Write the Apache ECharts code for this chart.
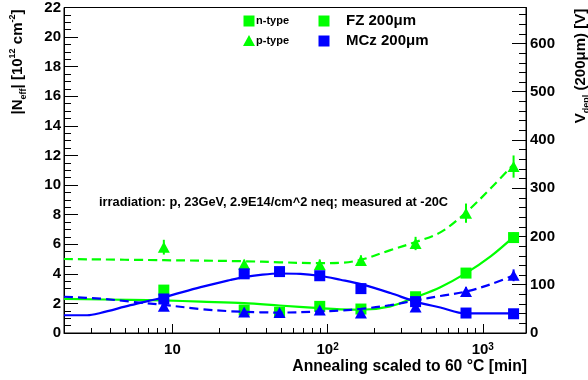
<!DOCTYPE html>
<html><head><meta charset="utf-8">
<script src="https://cdn.jsdelivr.net/npm/echarts@6/dist/echarts.min.js"></script>
<style>html,body{margin:0;padding:0;background:#fff}#c{width:588px;height:380px}</style>
</head><body><div id="c"></div>
<script>
// measured points (annealing time in min)
const times = [8.8, 29, 49, 89, 164, 369, 780, 1580];
const fzN = [2.9, 1.55, 1.4, 1.8, 1.62, 2.45, 4.05, 6.45];
const fzNErr = [0.3, 0.15, 0.15, 0.15, 0.15, 0.2, 0.3, 0.35];
const mczN = [2.3, 4.0, 4.15, 3.87, 3.0, 2.12, 1.35, 1.3];
const mczNErr = [0.25, 0.3, 0.25, 0.3, 0.25, 0.2, 0.1, 0.1];
const fzP = [5.8, 4.65, null, 4.62, 4.9, 6.05, 8.1, 11.25];
const fzPErr = [0.5, 0.3, 0, 0.35, 0.35, 0.45, 0.65, 0.75];
const mczP = [1.8, 1.42, 1.38, 1.55, 1.35, 1.75, 2.8, 3.9];
const mczPErr = [0.2, 0.1, 0.1, 0.15, 0.1, 0.2, 0.3, 0.4];

// fit curves
const fitFzNT = [2, 5.36, 8.8, 15.2, 29, 48.9, 88.5, 121, 164, 254, 369, 533, 780, 1130, 1580];
const fitFzNV = [2.3, 2.24, 2.2, 2.12, 2.02, 1.86, 1.68, 1.6, 1.57, 1.8, 2.42, 3.1, 4.05, 5.2, 6.5];
const fitFzPT = [2, 8.8, 29, 48.9, 88.5, 121, 164, 254, 369, 533, 780, 1130, 1580];
const fitFzPV = [5.0, 4.92, 4.85, 4.78, 4.72, 4.74, 4.95, 5.6, 6.15, 6.8, 8.15, 9.8, 11.4];
const fitMczNT = [2, 2.82, 3.43, 5.36, 8.8, 15.2, 23.6, 29, 36.9, 48.9, 66.8, 88.5, 121, 164, 254, 369, 533, 780, 1580];
const fitMczNV = [1.2, 1.2, 1.35, 1.88, 2.42, 3.1, 3.58, 3.78, 3.93, 4.02, 4.0, 3.87, 3.6, 3.3, 2.7, 2.12, 1.72, 1.32, 1.32];
const fitMczPT = [2, 3.43, 5.36, 8.8, 15.2, 23.6, 36.9, 48.9, 88.5, 121, 164, 254, 369, 533, 780, 1130, 1580];
const fitMczPV = [2.45, 2.32, 2.12, 1.9, 1.62, 1.47, 1.4, 1.38, 1.45, 1.52, 1.63, 1.88, 2.2, 2.5, 2.8, 3.3, 3.9];

const xMajor = [10, 100, 1000];
const xMinor = [3,4,5,6,7,8,9,20,30,40,50,60,70,80,90,200,300,400,500,600,700,800,900];

const GREEN = '#00ff00', BLUE = '#0000ff';
const FONT = 'Liberation Sans, Arial, Helvetica, sans-serif';

const zip = (a, b) => a.map((v, i) => [v, b[i]]).filter(p => p[1] !== null && p[1] !== undefined);
const zipErr = (a, b, e) => a.map((v, i) => [v, b[i], e[i]]).filter(p => p[1] !== null && p[1] !== undefined);

function lineSeries(t, v, color, dashed, z) {
  return { type: 'line', data: zip(t, v), showSymbol: false, smooth: 0.35, z: z,
    lineStyle: { color: color, width: 2.2, type: dashed ? [9, 5] : 'solid' }, silent: true, animation: false };
}
function errSeries(t, v, e, color, z) {
  return { type: 'custom', data: zipErr(t, v, e), z: z, silent: true, animation: false,
    renderItem: function (params, api) {
      const x = api.value(0), y = api.value(1), er = api.value(2);
      const p1 = api.coord([x, y - er]), p2 = api.coord([x, y + er]);
      return { type: 'line', shape: { x1: p1[0], y1: p1[1], x2: p2[0], y2: p2[1] },
        style: { stroke: color, lineWidth: 2 } };
    } };
}
function markSeries(t, v, color, symbol, size, z) {
  return { type: 'scatter', data: zip(t, v), symbol: symbol, symbolSize: size, z: z,
    itemStyle: { color: color, opacity: 1 }, silent: true, animation: false };
}

const chart = echarts.init(document.getElementById('c'), null, { renderer: 'canvas' });
chart.setOption({
  animation: false,
  backgroundColor: '#fff',
  grid: { left: 64, right: 62, top: 7, bottom: 47, show: true, borderColor: '#000', borderWidth: 1, containLabel: false },
  xAxis: [
    { type: 'log', logBase: 10, min: 2, max: 1900,
      axisLine: { lineStyle: { color: '#000', width: 1 } },
      axisTick: { inside: true, length: 9, customValues: xMajor, lineStyle: { color: '#000' } },
      axisLabel: { customValues: xMajor, margin: 9,
        formatter: function (v) { const e = Math.round(Math.log10(v)); return e === 1 ? '{b|10}' : '{b|10}{s|' + e + '}'; },
        rich: { b: { fontFamily: FONT, fontWeight: 'bold', fontSize: 15, color: '#000' },
                s: { fontFamily: FONT, fontWeight: 'bold', fontSize: 10, color: '#000', verticalAlign: 'top' } } },
      splitLine: { show: false } },
    { type: 'log', logBase: 10, min: 2, max: 1900, position: 'bottom', offset: 0,
      axisLine: { show: false },
      axisTick: { inside: true, length: 5, customValues: xMinor, lineStyle: { color: '#000' } },
      axisLabel: { show: false }, splitLine: { show: false } }
  ],
  yAxis: [
    { type: 'value', min: 0, max: 22, interval: 2,
      axisLine: { show: true, lineStyle: { color: '#000' } },
      axisTick: { show: true, inside: true, length: 14, lineStyle: { color: '#000' } },
      minorTick: { show: true, splitNumber: 4, length: 7, lineStyle: { color: '#000' } },
      axisLabel: { margin: 3, fontFamily: FONT, fontWeight: 'bold', fontSize: 15, color: '#000' },
      splitLine: { show: false } },
    { type: 'value', min: 0, max: 674.5, interval: 100, position: 'right',
      axisLine: { show: true, lineStyle: { color: '#000' } },
      axisTick: { show: true, inside: true, length: 14, lineStyle: { color: '#000' } },
      minorTick: { show: true, splitNumber: 5, length: 7, lineStyle: { color: '#000' } },
      axisLabel: { margin: 4, fontFamily: FONT, fontWeight: 'bold', fontSize: 15, color: '#000',
        formatter: function (v) { return v % 100 === 0 ? String(v) : ''; } },
      splitLine: { show: false } }
  ],
  series: [
    lineSeries(fitFzNT, fitFzNV, GREEN, false, 2),
    lineSeries(fitFzPT, fitFzPV, GREEN, true, 2),
    errSeries(times, fzN, fzNErr, GREEN, 3),
    errSeries(times, fzP, fzPErr, GREEN, 3),
    markSeries(times, fzN, GREEN, 'rect', 11, 4),
    markSeries(times, fzP, GREEN, 'triangle', [12, 11], 4),
    lineSeries(fitMczNT, fitMczNV, BLUE, false, 5),
    lineSeries(fitMczPT, fitMczPV, BLUE, true, 5),
    errSeries(times, mczN, mczNErr, BLUE, 6),
    errSeries(times, mczP, mczPErr, BLUE, 6),
    markSeries(times, mczN, BLUE, 'rect', 11, 7),
    markSeries(times, mczP, BLUE, 'triangle', [12, 11], 7)
  ],
  graphic: [
    { type: 'rect', shape: { x: 243.5, y: 15.5, width: 11, height: 11 }, style: { fill: GREEN } },
    { type: 'text', x: 256, y: 21, style: { text: 'n-type', font: 'bold 11px ' + FONT, fill: '#000', verticalAlign: 'middle' } },
    { type: 'polygon', shape: { points: [[249, 35], [243, 46], [255, 46]] }, style: { fill: GREEN } },
    { type: 'text', x: 256, y: 41, style: { text: 'p-type', font: 'bold 11px ' + FONT, fill: '#000', verticalAlign: 'middle' } },
    { type: 'rect', shape: { x: 318.5, y: 15.5, width: 11, height: 11 }, style: { fill: GREEN } },
    { type: 'rect', shape: { x: 318.5, y: 35.5, width: 11, height: 11 }, style: { fill: BLUE } },
    { type: 'text', x: 346, y: 21, style: { text: 'FZ 200μm', font: 'bold 15px ' + FONT, fill: '#000', verticalAlign: 'middle' } },
    { type: 'text', x: 346, y: 41, style: { text: 'MCz 200μm', font: 'bold 15px ' + FONT, fill: '#000', verticalAlign: 'middle' } },
    { type: 'text', x: 99, y: 202, style: { text: 'irradiation: p, 23GeV, 2.9E14/cm^2 neq; measured at -20C', font: 'bold 12.8px ' + FONT, fill: '#000', verticalAlign: 'middle' } },
    { type: 'text', x: 527, y: 367, style: { text: 'Annealing scaled to 60 °C [min]', font: 'bold 15.7px ' + FONT, fill: '#000', align: 'right', verticalAlign: 'middle' } },
    { type: 'text', x: 18, y: 62, rotation: Math.PI / 2,
      style: { text: '{m||N}{sb|eff}{m|| [10}{sp|12}{m| cm}{sp|-2}{m|]}', align: 'center', verticalAlign: 'middle',
        rich: { m: { font: 'bold 15px ' + FONT, fill: '#000', lineHeight: 20 },
                sb: { font: 'bold 9px ' + FONT, fill: '#000', verticalAlign: 'bottom' },
                sp: { font: 'bold 9px ' + FONT, fill: '#000', verticalAlign: 'top' } } } },
    { type: 'text', x: 581, y: 66, rotation: Math.PI / 2,
      style: { text: '{m|V}{sb|depl}{m| (200μm) [V]}', align: 'center', verticalAlign: 'middle',
        rich: { m: { font: 'bold 15px ' + FONT, fill: '#000', lineHeight: 20 },
                sb: { font: 'bold 9px ' + FONT, fill: '#000', verticalAlign: 'bottom' } } } }
  ]
});
</script></body></html>
